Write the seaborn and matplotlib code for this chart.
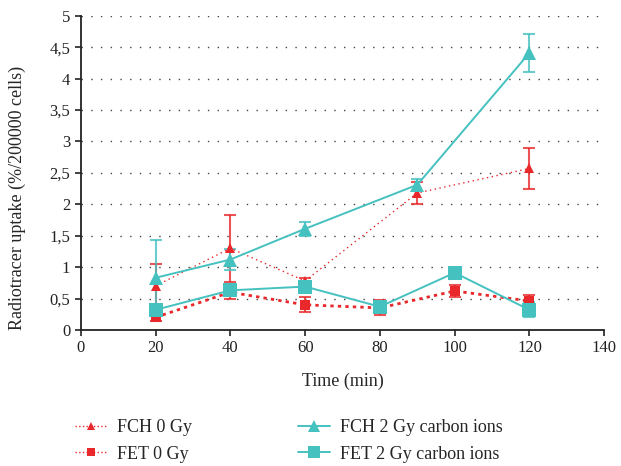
import numpy as np
import pandas as pd
import matplotlib
matplotlib.use("Agg")
import matplotlib.pyplot as plt
import seaborn as sns

# data
fch_x = [20, 40, 60, 90, 120]
fet_x = [20, 40, 60, 80, 100, 120]

fch0_y = [0.70, 1.30, 0.78, 2.18, 2.57]
fch0_err = [0.35, 0.53, 0.05, 0.18, 0.32]
fch2_y = [0.83, 1.12, 1.61, 2.31, 4.41]
fch2_err = [0.60, 0.17, 0.11, 0.10, 0.30]

fet0_y = [0.20, 0.60, 0.40, 0.35, 0.62, 0.46]
fet0_err = [0.05, 0.11, 0.12, 0.12, 0.09, 0.09]
fet2_y = [0.32, 0.63, 0.69, 0.37, 0.91, 0.32]
fet2_err = [0.04, 0.05, 0.05, 0.05, 0.04, 0.12]

labels = ["FCH 0 Gy", "FET 0 Gy", "FCH 2 Gy carbon ions", "FET 2 Gy carbon ions"]
yticks = np.arange(0, 5.01, 0.5)
ytick_labels = ["0", "0,5", "1", "1,5", "2", "2,5", "3", "3,5", "4", "4,5", "5"]

red = "#e8282b"
teal = "#45c1c0"

sns.set_style("ticks")
plt.rcParams["font.family"] = ["Liberation Serif", "DejaVu Serif"]

fig = plt.figure(figsize=(6.21, 4.66), dpi=100)
ax = fig.add_axes([0.130, 0.292, 0.843, 0.674])

for y in yticks[1:]:
    ax.axhline(y, color="#444444", lw=1.0, ls=(0, (1, 6)), zorder=0)

series = [
    (fch_x, fch0_y, fch0_err, red, "^", 7, (0, (1, 2.5)), 1.0),
    (fet_x, fet0_y, fet0_err, red, "s", 6.5, (0, (1.2, 1.5)), 2.0),
    (fch_x, fch2_y, fch2_err, teal, "^", 10, "-", 1.4),
    (fet_x, fet2_y, fet2_err, teal, "s", 10, "-", 1.4),
]

handles = []
for (xs, ys, err, col, mk, ms, ls, lw), lab in zip(series, labels):
    df = pd.DataFrame({"time": xs, "uptake": ys})
    ax.errorbar(xs, ys, yerr=err, fmt="none", ecolor=col, elinewidth=1.5,
                capsize=4, capthick=1.5, alpha=0.8, zorder=2)
    sns.lineplot(data=df, x="time", y="uptake", ax=ax, color=col, marker=mk,
                 markersize=ms, markeredgewidth=0, linestyle=ls, linewidth=lw,
                 zorder=3)
    handles.append(plt.Line2D([], [], color=col, marker=mk,
                              markersize=ms * 0.9 if col == teal else ms * 0.85,
                              markeredgewidth=0, linestyle=":" if col == red else "-",
                              linewidth=1.0 if col == red else 1.4))

ax.set_xlim(0, 140)
ax.set_ylim(0, 5)
ax.set_xticks(range(0, 141, 20))
ax.set_yticks(yticks)
ax.set_yticklabels(ytick_labels)
ax.tick_params(labelsize=12, length=4, width=1.2, colors="#222222")
for s in ["top", "right"]:
    ax.spines[s].set_visible(False)
for s in ["left", "bottom"]:
    ax.spines[s].set_linewidth(1.3)
    ax.spines[s].set_color("#222222")
ax.set_xlabel("Time (min)", fontsize=13, labelpad=12)
ax.set_ylabel("Radiotracer uptake (%/200000 cells)", fontsize=13)
ax.yaxis.set_label_coords(-0.104, 0.42)

fig.legend(handles, labels, loc="center left", bbox_to_anchor=(0.095, 0.054),
           ncol=2, frameon=False, fontsize=13, columnspacing=5.9,
           handlelength=1.75, handletextpad=0.55, labelspacing=0.55)

fig.savefig("out.png", dpi=100)
